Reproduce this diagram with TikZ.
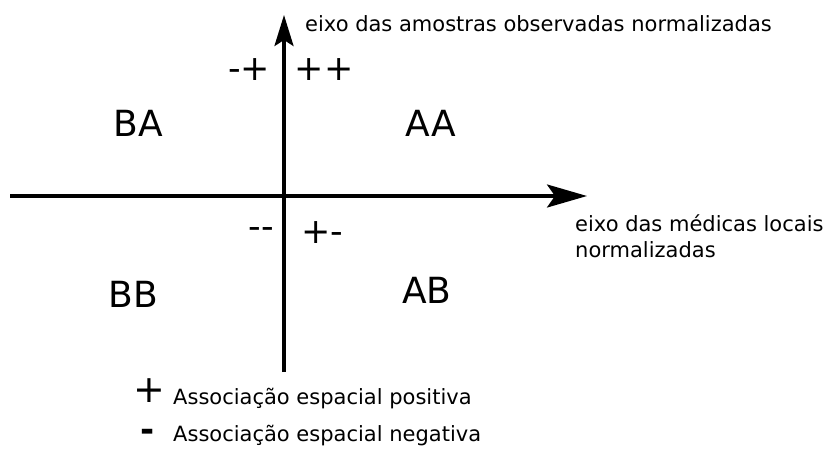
\documentclass[tikz,border=0pt]{standalone}
\usepackage{fontspec}
\setmainfont{DejaVu Sans}
\usetikzlibrary{arrows.meta}
\begin{document}
\begin{tikzpicture}[x=1pt,y=-1pt,
  axis/.style={line width=3.5pt},
  harrow/.style={-{Stealth[length=40pt,width=23pt,inset=8pt]}},
  varrow/.style={-{Stealth[length=31pt,width=19pt,inset=6pt]}},
  quad/.style={font=\fontsize{36}{40}\selectfont,inner sep=0pt},
  sign/.style={font=\fontsize{35}{40}\selectfont,inner sep=0pt},
  lbl/.style={font=\fontsize{21}{24}\selectfont,inner sep=0pt,anchor=base west},
  leg/.style={font=\fontsize{21}{24}\selectfont,inner sep=0pt,anchor=base west}]
\useasboundingbox (0,0) rectangle (827,450);
\coordinate (xs) at (10,196);
\coordinate (xe) at (587,196);
\coordinate (ys) at (284,372);
\coordinate (ye) at (284,15);
\draw[axis,harrow] (xs) -- (xe);
\draw[axis,varrow] (ys) -- (ye);
\node[lbl] (ly) at (305,31) {eixo das amostras observadas normalizadas};
\node[lbl] (lx1) at (575,231) {eixo das médicas locais};
\node[lbl] (lx2) at (575,257) {normalizadas};
\node[sign] (mp) at (249,70) {-+};
\node[sign] (pp) at (324,70) {++};
\node[sign] (mm) at (261,233) {-\kern0pt-};
\node[sign] (pm) at (322,233) {+-};
\node[quad] (ba) at (138,123.5) {BA};
\node[quad] (aa) at (431,123) {AA};
\node[quad] (bb) at (133,294) {BB};
\node[quad] (ab) at (427,290) {AB};
\node[font=\fontsize{38}{40}\selectfont,inner sep=0pt] (plus) at (149.5,390.5) {+};
\node[font=\fontsize{34}{40}\selectfont\bfseries,inner sep=0pt,anchor=base] (minus) at (147.5,441.5) {-};
\node[leg] (lp) at (173,404) {Associação espacial positiva};
\node[leg] (lm) at (173,441) {Associação espacial negativa};
\end{tikzpicture}
\end{document}
